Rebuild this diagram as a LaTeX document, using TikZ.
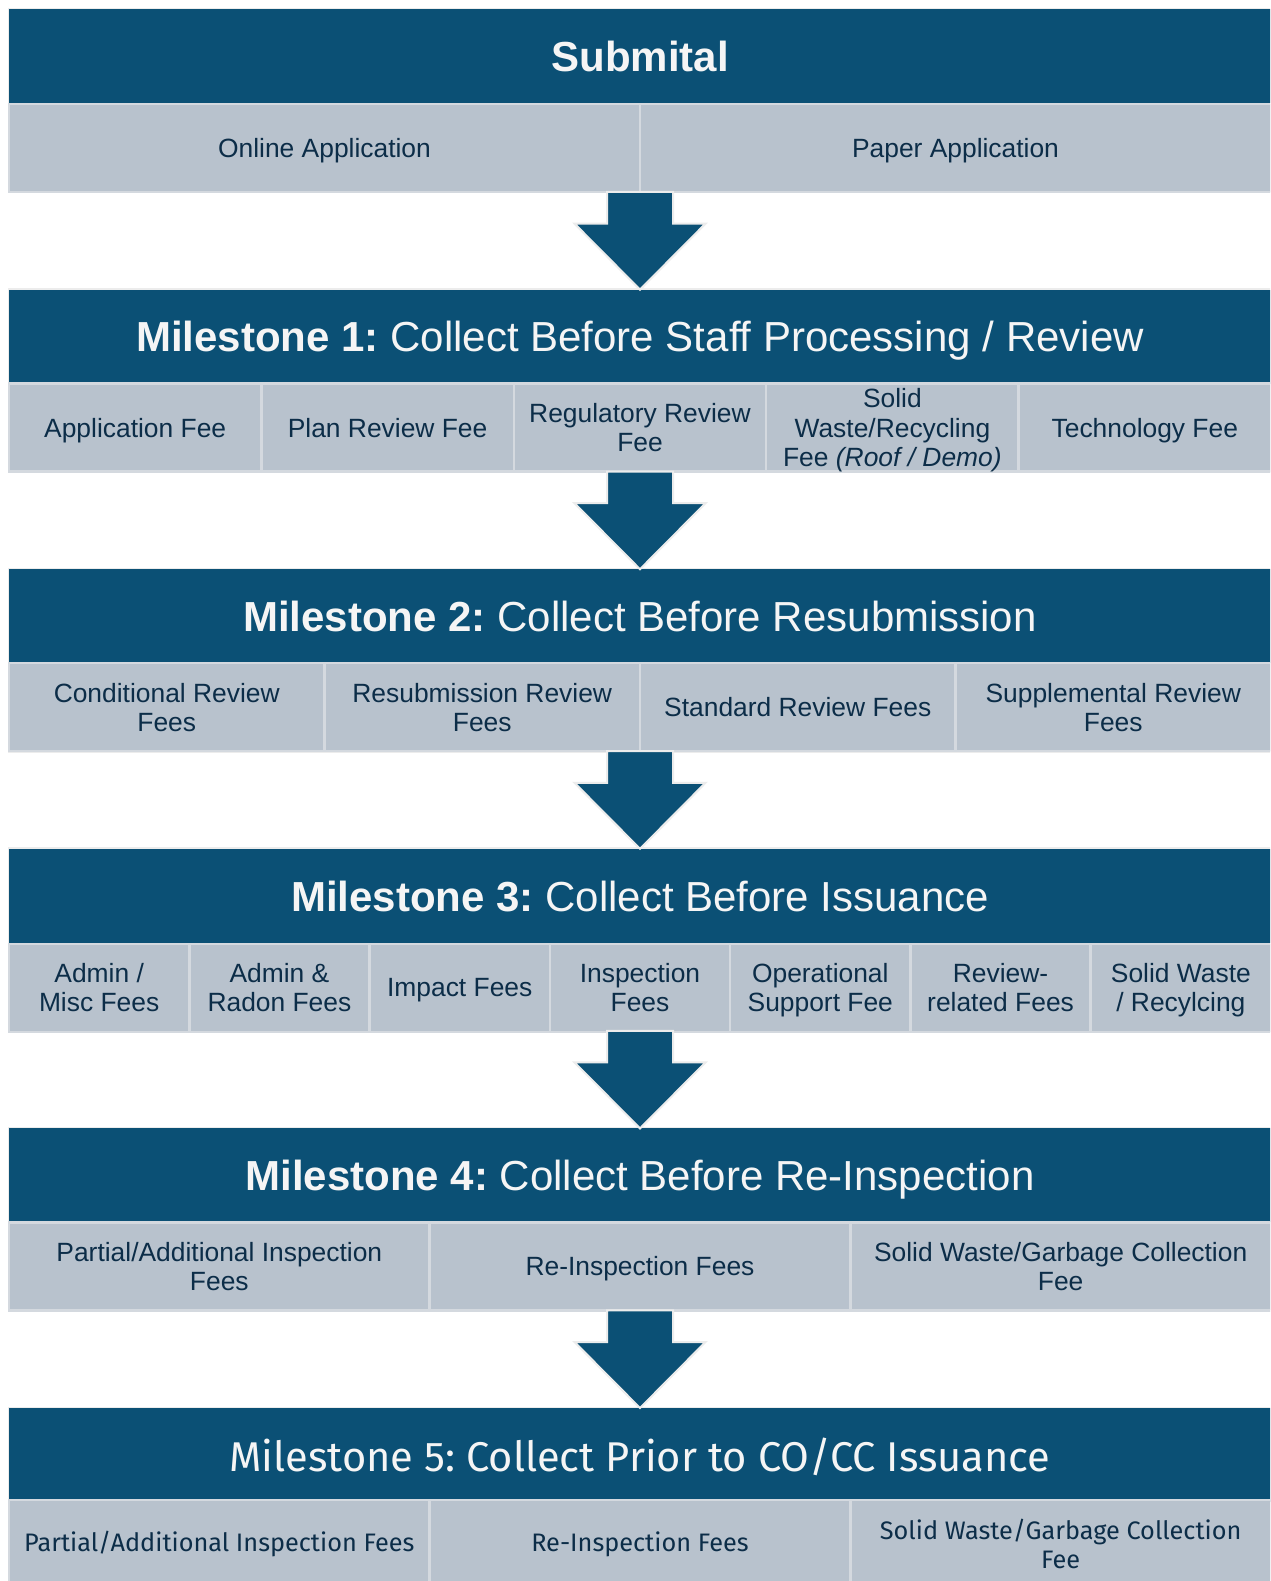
\documentclass[tikz,border=0pt]{standalone}
\usepackage{fontspec}
\setmainfont{Liberation Sans}
\newfontfamily\msfont{Fira Sans}
\usetikzlibrary{calc}
\frenchspacing
\definecolor{hdrblue}{RGB}{11,80,117}
\definecolor{cellgray}{RGB}{184,194,205}
\definecolor{sepgray}{RGB}{212,217,223}
\definecolor{edgegray}{RGB}{236,236,236}
\definecolor{celltext}{RGB}{12,45,72}
\definecolor{hdrtext}{RGB}{245,245,245}
\tikzset{
  hdr/.style={fill=hdrblue, text=hdrtext, anchor=north west, minimum width=1262pt,
    minimum height=94pt, inner sep=0pt, outer sep=0pt, text depth=0pt,
    font=\frenchspacing\fontsize{42}{50}\selectfont},
  cell/.style={fill=cellgray, draw=sepgray, line width=2.5pt, text=celltext, align=center,
    minimum height=88pt, inner sep=0pt, outer sep=0pt, text depth=0pt,
    font=\fontsize{26.4}{29.2}\selectfont},
  msrow/.style={text depth=, font=\msfont\fontsize{25.3}{29}\selectfont},
  blockedge/.style={draw=edgegray, line width=3pt},
  arrowfill/.style={fill=hdrblue, draw=edgegray, line width=2pt, line join=miter},
}
\newcommand\cellrow[5][]{%
  \foreach \t [count=\i] in {#5} {
    \node[cell, #1, minimum width={1262pt/#3}] (#4\i) at ({9+(\i-0.5)*1262/#3}, {#2+138}) {\t};
  }}
\newcommand\blkarrow[2]{%
  \path[arrowfill] let \p1=(#1), \p2=(#2) in
    ({\x1-33pt},{\y1}) -- ({\x1+33pt},{\y1}) -- ({\x1+33pt},{\y2+66pt}) --
    ({\x1+65.5pt},{\y2+66pt}) -- (\x2,\y2) -- ({\x1-65.5pt},{\y2+66pt}) --
    ({\x1-33pt},{\y2+66pt}) -- cycle;}
\begin{document}
\begin{tikzpicture}[x=1pt,y=-1pt]
\useasboundingbox (0,0) rectangle (1270,1581);
\fill[white] (0,0) rectangle (1270,1581);
\clip (0,0) rectangle (1270,1581);

% Block 0
\draw[blockedge] (9,10) rectangle (1271,192);
\node[hdr] (h0) at (9,9) {\textbf{Submital}};
\cellrow{10}{2}{r0-}{Online Application, Paper Application}

% Block 1
\draw[blockedge] (9,289.6) rectangle (1271,471.6);
\node[hdr] (h1) at (9,289.6) {\textbf{Milestone 1:} Collect Before Staff Processing / Review};
\cellrow{289.6}{5}{r1-}{Application Fee, Plan Review Fee, {Regulatory Review\\Fee}, {Solid\\Waste/Recycling\\Fee \textit{(Roof / Demo)}}, Technology Fee}

% Block 2
\draw[blockedge] (9,569.2) rectangle (1271,751.2);
\node[hdr] (h2) at (9,569.2) {\textbf{Milestone 2:} Collect Before Resubmission};
\cellrow{569.2}{4}{r2-}{{Conditional Review\\Fees}, {Resubmission Review\\Fees}, Standard Review Fees, {Supplemental Review\\Fees}}

% Block 3
\draw[blockedge] (9,848.8) rectangle (1271,1030.8);
\node[hdr] (h3) at (9,848.8) {\textbf{Milestone 3:} Collect Before Issuance};
\cellrow{849.8}{7}{r3-}{{Admin /\\Misc Fees}, {Admin \&\\Radon Fees}, Impact Fees, {Inspection\\Fees}, {Operational\\Support Fee}, {Review-\\related Fees}, {Solid Waste\\/ Recylcing}}

% Block 4
\draw[blockedge] (9,1128.4) rectangle (1271,1310.4);
\node[hdr] (h4) at (9,1128.4) {\textbf{Milestone 4:} Collect Before Re-Inspection};
\cellrow{1128.4}{3}{r4-}{{Partial/Additional Inspection\\Fees}, Re-Inspection Fees, {Solid Waste/Garbage Collection\\Fee}}

% Block 5
\draw[blockedge] (9,1408) rectangle (1271,1590);
\node[hdr, font=\msfont\fontsize{41.6}{48}\selectfont] (h5) at (9,1408) {Milestone 5: Collect Prior to CO/CC Issuance};
\cellrow[msrow]{1406}{3}{r5-}{Partial/Additional Inspection Fees, Re-Inspection Fees, {Solid Waste/Garbage Collection\\Fee}}

% Arrows
\coordinate (a0) at (640,192);
\coordinate (a1) at (640,471.6);
\coordinate (a2) at (640,751.2);
\coordinate (a3) at (640,1030.8);
\coordinate (a4) at (640,1310.4);
\blkarrow{a0}{h1.north}
\blkarrow{a1}{h2.north}
\blkarrow{a2}{h3.north}
\blkarrow{a3}{h4.north}
\blkarrow{a4}{h5.north}
\end{tikzpicture}
\end{document}
